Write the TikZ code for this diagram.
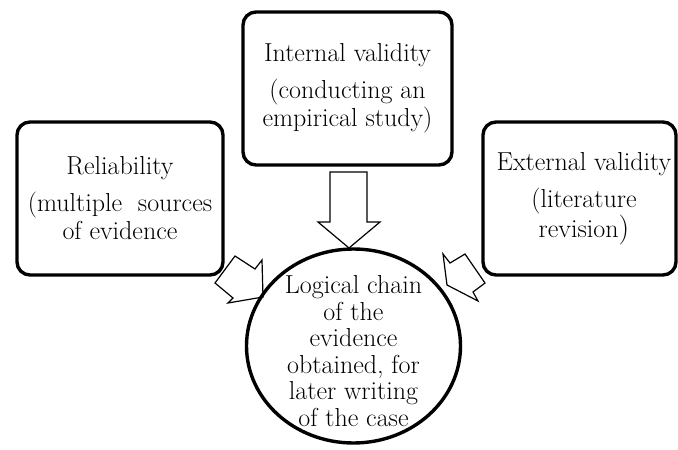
\documentclass[tikz,border=0pt]{standalone}
\usetikzlibrary{shapes.geometric}
\begin{document}
\begin{tikzpicture}[x=1pt,y=-1pt,
  boxstyle/.style={draw, line width=3.4pt, rounded corners=13pt, align=center,
    inner sep=0pt, font=\fontsize{26}{28}\selectfont},
  circstyle/.style={draw, ellipse, line width=3.4pt, align=center, inner sep=0pt},
  txtstyle/.style={align=center, inner sep=0pt},
  blockarrow/.style={draw, fill=white, line width=1.2pt, line join=miter}]
\useasboundingbox (0,0) rectangle (678,450);
\node[boxstyle, minimum width=206pt, minimum height=153pt] (rel) at (120,198.5)
  {Reliability\\[9pt](multiple\ \ sources\\of evidence};
\node[boxstyle, minimum width=209pt, minimum height=153pt] (int) at (347.5,88.5)
  {Internal validity\\[9pt](conducting an\\empirical study)};
\node[boxstyle, minimum width=193pt, minimum height=153pt] (ext) at (579.5,198.5) {};
\node[txtstyle, font=\fontsize{26}{28}\selectfont] (extt) at (584,199)
  {External validity\\[9pt](literature\\revision{\fontsize{30}{28}\selectfont)}};
% block arrows
\draw[blockarrow] (330,172) -- (367,172) -- (367,222) -- (380,222) -- (349,248) -- (318,222) -- (330,222) -- cycle;
\draw[blockarrow] (215,283) -- (235,256) -- (255,269) -- (262,260) -- (263,297) -- (228,303) -- (233,298) -- cycle;
\draw[blockarrow] (443,254) -- (450,263) -- (465,254) -- (485,283) -- (473,292) -- (478,301) -- (447,285) -- cycle;
\node[circstyle, minimum width=214pt, minimum height=194pt] (chain) at (353.5,346) {};
\node[txtstyle, font=\fontsize{26}{26.5}\selectfont] (chaint) at (353.5,351)
  {Logical chain\\of the\\evidence\\obtained, for\\later writing\\of the case};
\end{tikzpicture}
\end{document}
